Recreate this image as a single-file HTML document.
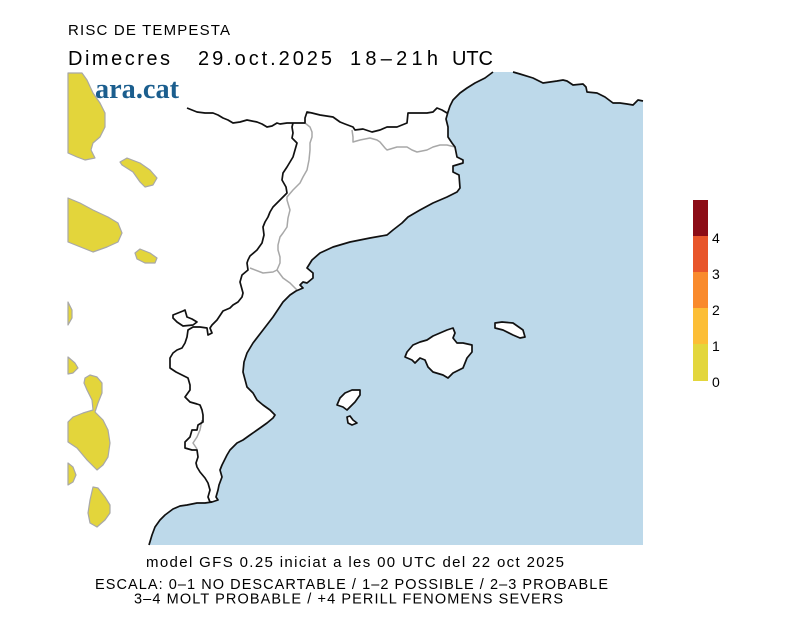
<!DOCTYPE html>
<html><head><meta charset="utf-8"><style>
html,body{margin:0;padding:0;background:#fff;}
svg{display:block;}
text{font-family:"Liberation Sans",sans-serif;fill:#000;}
</style></head><body>
<svg width="800" height="617" viewBox="0 0 800 617" xmlns="http://www.w3.org/2000/svg">
<rect width="800" height="617" fill="#fff"/>
<!-- sea -->
<polygon fill="#bdd9ea" points="493,72 513,72 520,74 533,78 543,83 550,82 557,81 563,80 567,81 573,85 583,84 586,87 587,92 597,93 605,97 613,103 620,103 627,104 633,105 636,102 638,100 643,101 643,545 149,545 152,535 155,527 160,520 165,515 173,509 180,506 187,505 197,503 205,503 212,502 218,500 216,497 218,490 219,485 222,477 220,470 222,465 227,455 230,450 237,443 243,440 250,435 260,428 267,423 273,418 275,415 270,410 263,405 257,400 253,393 247,387 243,372 244,362 247,353 253,343 263,330 273,317 283,302 290,295 296,291 303,288 300,285 303,282 307,283 313,278 313,273 307,268 312,260 320,253 333,247 350,242 370,238 387,235 393,230 402,223 408,217 420,210 433,203 447,197 457,192 460,188 459,175 453,172 453,166 463,163 463,160 457,157 455,147 452,143 448,137 448,127 446,119 448,112 450,106 453,100 460,93 467,88 475,83 485,78"/>
<!-- yellow blobs -->
<g fill="#e3d53b" stroke="#a8a8a8" stroke-width="1.2" stroke-linejoin="round">
<polygon points="68,73 82,73 87,80 93,93 100,103 105,113 105,127 100,137 93,143 91,150 95,158 85,160 77,157 68,153"/>
<polygon points="120,162 127,158 140,163 150,170 157,178 153,185 145,187 140,182 133,172 122,165"/>
<polygon points="68,198 80,203 93,210 108,217 118,223 122,233 118,242 107,247 93,252 83,248 68,242"/>
<polygon points="135,253 140,249 150,253 157,258 155,263 145,263 137,259"/>
<polygon points="68,302 72,310 72,318 68,325"/>
<polygon points="68,357 75,363 78,368 73,373 68,374"/>
<polygon points="84,383 85,378 90,375 97,377 102,383 102,393 98,403 95,412 103,420 108,430 110,443 108,457 103,465 97,470 87,460 77,448 68,442 68,422 73,417 83,413 93,410 92,400 87,390"/>
<polygon points="68,463 73,467 76,475 73,482 68,485"/>
<polygon points="93,487 98,488 105,497 110,505 110,513 105,520 97,527 90,523 88,513 90,500"/>
</g>
<!-- gray internal borders -->
<g fill="none" stroke="#a8a8a8" stroke-width="1.5" stroke-linejoin="round">
<polyline points="305,123 310,127 312,132 312,137 310,143 310,150 309,160 307,170 303,177 300,183 293,190 287,197 287,200 290,210 288,218 287,227 283,233 280,237 278,245 278,250 280,257 280,263 277,270 283,278 290,283 297,290"/>
<polyline points="277,270 273,272 263,273 250,268"/>
<polyline points="352,130 353,137 353,142 360,140 370,138 377,140 380,142 385,148 387,150 397,147 407,147 412,150 417,152 427,150 433,147 440,145 447,145 455,147"/>
<polyline points="202,420 200,430 197,437 193,443 197,449"/>
</g>
<!-- black lines -->
<g fill="none" stroke="#111" stroke-width="1.7" stroke-linejoin="round">
<polyline points="493,72 485,78 475,83 467,88 460,93 453,100 450,106 448,112 446,119 448,127 448,137 452,143 455,147 457,157 463,160 463,163 453,166 453,172 459,175 460,188 457,192 447,197 433,203 420,210 408,217 402,223 393,230 387,235 370,238 350,242 333,247 320,253 312,260 307,268 313,273 313,278 307,283 303,282 300,285 303,288 296,291 290,295 283,302 273,317 263,330 253,343 247,353 244,362 243,372 247,387 253,393 257,400 263,405 270,410 275,415 273,418 267,423 260,428 250,435 243,440 237,443 230,450 227,455 222,465 220,470 222,477 219,485 218,490 216,497 218,500 212,502 205,503 197,503 187,505 180,506 173,509 165,515 160,520 155,527 152,535 149,545"/>
<polyline points="513,72 520,74 533,78 543,83 550,82 557,81 563,80 567,81 573,85 583,84 586,87 587,92 597,93 605,97 613,103 620,103 627,104 633,105 636,102 638,100 643,101"/>
<polyline points="448,112 447,113 442,110 437,108 433,112 427,113 417,113 408,113 407,123 397,127 387,127 380,130 372,132 363,129 355,130 353,127 345,124 340,122 333,117 320,115 312,113 307,112 305,118 305,123 293,123 287,123 280,124 277,123 272,126 267,127 262,124 257,122 247,120 240,122 233,123 228,120 223,118 218,115 213,113 205,113 197,112 192,110 187,108"/>
<polyline points="293,123 292,127 293,133 292,138 297,143 295,150 293,157 290,162 287,167 283,173 282,180 286,187 287,193 280,200 273,207 270,212 268,217 265,222 263,227 264,235 262,243 257,250 250,256 248,260 247,263 248,270 242,275 240,282 243,293 242,297 238,302 233,305 230,308 223,311 217,320 212,325 210,328 212,333 208,335 207,328 200,327 193,327 188,330 187,337 185,343 182,348 177,350 173,353 170,358 170,368 176,372 182,375 188,378 190,385 190,390 185,397 190,402 197,404 200,405 202,410 203,415 203,422 198,425 197,430 192,430 190,437 185,442 185,448 192,450 197,450 198,457 196,463 197,467 200,472 205,478 208,483 210,490 208,497 210,502 212,502"/>
<polygon fill="#fff" points="173,315 178,313 183,311 185,310 187,317 192,319 197,322 193,325 183,326 177,322 173,318"/>
<!-- Balearics -->
<polygon fill="#fff" points="407,352 413,345 420,342 427,340 433,336 440,333 447,330 453,328 455,333 453,338 457,343 463,343 472,345 472,352 467,358 463,368 453,373 448,378 443,375 433,372 428,367 425,360 420,358 415,363 412,360 405,357"/>
<polygon fill="#fff" points="495,323 502,322 513,323 523,330 525,337 520,338 513,335 503,330 495,328"/>
<polygon fill="#fff" points="340,398 345,393 352,390 360,390 360,395 355,402 350,407 347,410 343,407 337,405"/>
<polygon fill="#fff" points="347,417 350,416 353,420 357,423 352,425 348,423"/>
</g>
<!-- logo -->
<text x="95" y="98" font-family="'Liberation Serif',serif" font-weight="bold" font-size="29" fill="#1b5e8e" style="fill:#1b5e8e;font-family:'Liberation Serif',serif" textLength="84" lengthAdjust="spacingAndGlyphs">ara.cat</text>
<!-- titles -->
<text x="68" y="35" font-size="15" textLength="162" lengthAdjust="spacing">RISC DE TEMPESTA</text>
<text x="68" y="65" font-size="20" textLength="102" lengthAdjust="spacing">Dimecres</text>
<text x="198" y="65" font-size="20" textLength="134" lengthAdjust="spacing">29.oct.2025</text>
<text x="350" y="65" font-size="20" textLength="88" lengthAdjust="spacing">18–21h</text>
<text x="452" y="65" font-size="20" textLength="41" lengthAdjust="spacing">UTC</text>
<!-- colorbar -->
<rect x="693" y="200" width="15" height="36" fill="#8c0c16"/>
<rect x="693" y="236" width="15" height="36" fill="#e8552a"/>
<rect x="693" y="272" width="15" height="36" fill="#f98a2c"/>
<rect x="693" y="308" width="15" height="36" fill="#fcbe36"/>
<rect x="693" y="344" width="15" height="37" fill="#e3d63c"/>
<text x="712" y="243" font-size="14">4</text>
<text x="712" y="279" font-size="14">3</text>
<text x="712" y="315" font-size="14">2</text>
<text x="712" y="351" font-size="14">1</text>
<text x="712" y="387" font-size="14">0</text>
<!-- bottom text -->
<text x="146" y="567" font-size="15" textLength="418" lengthAdjust="spacing">model GFS 0.25 iniciat a les 00 UTC del 22 oct 2025</text>
<text x="95" y="589" font-size="14.5" textLength="513" lengthAdjust="spacing">ESCALA: 0–1 NO DESCARTABLE / 1–2 POSSIBLE / 2–3 PROBABLE</text>
<text x="134" y="603.5" font-size="14.5" textLength="429" lengthAdjust="spacing">3–4 MOLT PROBABLE / +4 PERILL FENOMENS SEVERS</text>
</svg>
</body></html>
